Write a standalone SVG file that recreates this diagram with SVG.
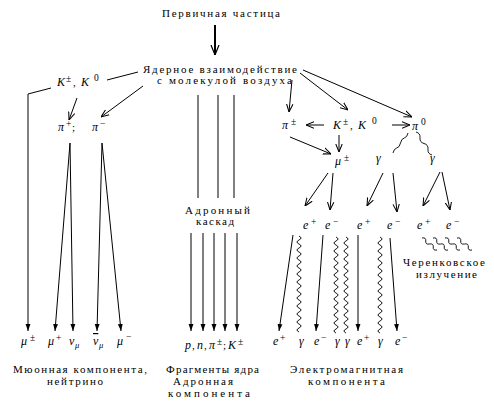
<svg xmlns="http://www.w3.org/2000/svg" xmlns:xlink="http://www.w3.org/1999/xlink" width="494" height="407" viewBox="0 0 494 407">
<style>
text{font-family:"Liberation Serif","Times New Roman",serif;font-size:11px;fill:#000}
.m{font-style:italic;font-size:12px}
.s{font-size:8.5px}
.p{font-size:9.5px}
.ln{fill:none;stroke:#000;stroke-width:1}
.o{marker-end:url(#ah)}
.f{marker-end:url(#af)}
.w{fill:none;stroke:#000;stroke-width:0.9}
</style>
<defs>
<marker id="ah" viewBox="0 0 10 10" refX="10" refY="5" markerWidth="8" markerHeight="8" markerUnits="userSpaceOnUse" orient="auto"><path d="M0,1 L10,5 L0,9" fill="none" stroke="#000" stroke-width="1.3"/></marker>
<marker id="af" viewBox="0 0 10 10" refX="10" refY="5" markerWidth="7" markerHeight="7" markerUnits="userSpaceOnUse" orient="auto"><path d="M0,1.5 L10,5 L0,8.5 Z" fill="#000"/></marker>
<marker id="ab" viewBox="0 0 10 10" refX="10" refY="5" markerWidth="10" markerHeight="10" markerUnits="userSpaceOnUse" orient="auto"><path d="M0,1 L10,5 L0,9" fill="none" stroke="#000" stroke-width="1.2"/></marker>
<path id="wv" d="M0,0 q4,2 0,4 t0,4 t0,4 t0,4 t0,4 t0,4 t0,4 t0,4 t0,4 t0,4 t0,4 t0,4 t0,4 t0,4 t0,4 t0,4 t0,4 t0,4 t0,4 t0,4 t0,4 t0,4 t0,4 t0,4"/>
<path id="cw" d="M0,0 q4.2,-0.8 3.75,3 t3.75,3 t3.75,3 t3.75,3"/>
</defs>

<g id="connectors">
<path class="ln" d="M215,25 L215,55" style="stroke-width:2" marker-end="url(#ab)"/>
<path class="ln" d="M138,72 L107,80"/>
<path class="ln f" d="M51,88 L28,94 L28,331"/>
<path class="ln o" d="M77,98 L69,120"/>
<path class="ln o" d="M143,86 L101,117"/>
<path class="ln f" d="M70,143 L55,331"/>
<path class="ln f" d="M70,143 L73,331"/>
<path class="ln f" d="M102,143 L97,331"/>
<path class="ln f" d="M102,143 L121,331"/>
<path class="ln" d="M198,95 L198,198 M218,95 L218,198 M234,95 L234,198"/>
<path class="ln f" d="M191,233 L191,331"/>
<path class="ln f" d="M203,233 L203,331"/>
<path class="ln f" d="M214,233 L214,331"/>
<path class="ln f" d="M225,233 L225,331"/>
<path class="ln f" d="M237,233 L237,331"/>
<path class="ln o" d="M292,80 L289,112"/>
<path class="ln o" d="M300,73 L348,110"/>
<path class="ln o" d="M303,70 L412,117"/>
<path class="ln o" d="M324,125 L306,125"/>
<path class="ln o" d="M392,125 L410,125"/>
<path class="ln o" d="M339,135 L339,152"/>
<path class="ln o" d="M290,137 L331,154"/>
<path class="w" d="M408,133 q-1,4.5 -3.75,5 t-3.75,5 t-3.75,5 t-3.75,5"/>
<path class="w" d="M416,132 q4.5,1.2 4,5.75 t4,5.75 t4,5.75 t4,5.75"/>
<path class="ln o" d="M328,173 L305,206"/>
<path class="ln o" d="M333,173 L330,210"/>
<path class="ln o" d="M383,173 L367,206"/>
<path class="ln o" d="M393,173 L397,212"/>
<path class="ln o" d="M440,172 L423,206"/>
<path class="ln o" d="M442,172 L450,210"/>
<use xlink:href="#cw" class="w" x="422" y="238"/>
<use xlink:href="#cw" class="w" x="433" y="238"/>
<use xlink:href="#cw" class="w" x="445" y="238"/>
<use xlink:href="#cw" class="w" x="457" y="238"/>
<path class="ln f" d="M293,235 L279,331"/>
<use xlink:href="#wv" class="w" x="299" y="236"/>
<path class="ln f" d="M323,235 L316,331"/>
<use xlink:href="#wv" class="w" x="336" y="237"/>
<use xlink:href="#wv" class="w" x="346" y="237"/>
<path class="ln f" d="M358,235 L358,331"/>
<use xlink:href="#wv" class="w" x="380" y="237"/>
<path class="ln f" d="M390,238 L397,331"/>
</g>

<g id="primary"><text x="221" y="17" text-anchor="middle" textLength="118">Первичная частица</text></g>
<g id="interaction">
<text x="220" y="73" text-anchor="middle" textLength="154">Ядерное взаимодействие</text>
<text x="224.5" y="84" text-anchor="middle" textLength="135">с молекулой воздуха</text>
</g>
<g id="kaons-left"><text y="86"><tspan x="57" class="m">K</tspan><tspan x="66" dy="-4" class="p">±</tspan><tspan x="73" dy="4">,</tspan><tspan x="81" class="m">K</tspan><tspan x="94" dy="-5" class="p">0</tspan></text></g>
<g id="pion-plus"><text y="131"><tspan x="58" class="m">π</tspan><tspan x="66" dy="-4" class="p">+</tspan><tspan x="72" dy="4">;</tspan></text></g>
<g id="pion-minus"><text y="131"><tspan x="92" class="m">π</tspan><tspan x="100" dy="-4" class="p">−</tspan></text></g>
<g id="mu-pm-left"><text y="345"><tspan x="21" class="m">μ</tspan><tspan x="30" dy="-4" class="p">±</tspan></text></g>
<g id="mu-plus"><text y="345"><tspan x="48" class="m">μ</tspan><tspan x="56" dy="-4" class="p">+</tspan></text></g>
<g id="nu-mu"><text y="345"><tspan x="69" class="m">ν</tspan><tspan x="75" dy="3" class="s m">μ</tspan></text></g>
<g id="nubar-mu"><text y="345"><tspan x="93" class="m" style="text-decoration:overline">ν</tspan><tspan x="99" dy="3" class="s m">μ</tspan></text></g>
<g id="mu-minus"><text y="345"><tspan x="117" class="m">μ</tspan><tspan x="126" dy="-5" class="p">−</tspan></text></g>
<g id="muon-label">
<text x="80" y="373" text-anchor="middle" textLength="134">Мюонная компонента,</text>
<text x="75" y="385" text-anchor="middle" textLength="56">нейтрино</text>
</g>
<g id="hadron-cascade">
<text x="217.5" y="214" text-anchor="middle" textLength="65">Адронный</text>
<text x="215" y="225" text-anchor="middle" textLength="38">каскад</text>
</g>
<g id="hadron-bottom"><text y="349"><tspan x="185" class="m">p</tspan><tspan x="192">,</tspan><tspan x="197" class="m">n</tspan><tspan x="204">,</tspan><tspan x="209" class="m">π</tspan><tspan x="217" dy="-4" class="p">±</tspan><tspan x="223" dy="4">;</tspan><tspan x="228" class="m">K</tspan><tspan x="238" dy="-4" class="p">±</tspan></text></g>
<g id="hadron-label">
<text x="212.5" y="373" text-anchor="middle" textLength="93">Фрагменты ядра</text>
<text x="203" y="385" text-anchor="middle" textLength="60">Адронная</text>
<text x="209" y="397" text-anchor="middle" textLength="82">компонента</text>
</g>
<g id="pi-pm"><text y="129"><tspan x="282" class="m">π</tspan><tspan x="291" dy="-4" class="p">±</tspan></text></g>
<g id="kaons-right"><text y="129"><tspan x="333" class="m">K</tspan><tspan x="343" dy="-4" class="p">±</tspan><tspan x="350" dy="4">,</tspan><tspan x="358" class="m">K</tspan><tspan x="372" dy="-5" class="p">0</tspan></text></g>
<g id="pi0"><text y="130"><tspan x="412" class="m">π</tspan><tspan x="421" dy="-5" class="p">0</tspan></text></g>
<g id="mu-pm"><text y="165"><tspan x="335" class="m">μ</tspan><tspan x="344" dy="-4" class="p">±</tspan></text></g>
<g id="gamma1"><text x="376" y="162" class="m">γ</text></g>
<g id="gamma2"><text x="430" y="162" class="m">γ</text></g>
<g id="e1"><text y="229"><tspan x="303" class="m">e</tspan><tspan x="311" dy="-4" class="p">+</tspan></text></g>
<g id="e2"><text y="229"><tspan x="325" class="m">e</tspan><tspan x="333" dy="-4" class="p">−</tspan></text></g>
<g id="e3"><text y="229"><tspan x="357" class="m">e</tspan><tspan x="365" dy="-4" class="p">+</tspan></text></g>
<g id="e4"><text y="229"><tspan x="387" class="m">e</tspan><tspan x="395" dy="-4" class="p">−</tspan></text></g>
<g id="e5"><text y="229"><tspan x="417" class="m">e</tspan><tspan x="425" dy="-4" class="p">+</tspan></text></g>
<g id="e6"><text y="229"><tspan x="446" class="m">e</tspan><tspan x="454" dy="-4" class="p">−</tspan></text></g>
<g id="cherenkov">
<text x="444" y="266" text-anchor="middle" textLength="82">Черенковское</text>
<text x="446.5" y="278" text-anchor="middle" textLength="61">излучение</text>
</g>
<g id="em-bottom">
<text y="345"><tspan x="273" class="m">e</tspan><tspan x="280" dy="-4" class="p">+</tspan></text>
<text x="299" y="345" class="m">γ</text>
<text y="345"><tspan x="314" class="m">e</tspan><tspan x="321" dy="-4" class="p">−</tspan></text>
<text x="335" y="345" class="m">γ</text>
<text x="345" y="345" class="m">γ</text>
<text y="345"><tspan x="357" class="m">e</tspan><tspan x="364" dy="-4" class="p">+</tspan></text>
<text x="378" y="345" class="m">γ</text>
<text y="345"><tspan x="395" class="m">e</tspan><tspan x="402" dy="-4" class="p">−</tspan></text>
</g>
<g id="em-label">
<text x="346.5" y="373" text-anchor="middle" textLength="113">Электромагнитная</text>
<text x="346.5" y="385" text-anchor="middle" textLength="77">компонента</text>
</g>
</svg>
